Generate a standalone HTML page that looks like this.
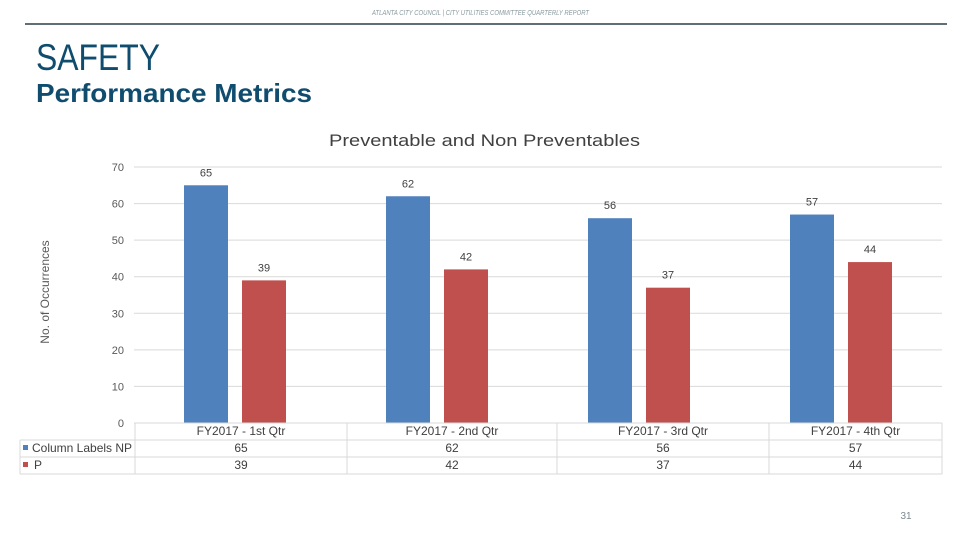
<!DOCTYPE html>
<html><head><meta charset="utf-8"><style>
body{margin:0;width:960px;height:540px;background:#fff;overflow:hidden;font-family:"Liberation Sans",sans-serif}
</style></head><body>
<svg width="960" height="540" xmlns="http://www.w3.org/2000/svg" font-family="Liberation Sans, sans-serif">
<text x="372" y="15" font-size="7" font-style="italic" fill="#8a9aa0" textLength="217" lengthAdjust="spacingAndGlyphs">ATLANTA CITY COUNCIL  |  CITY UTILITIES COMMITTEE QUARTERLY REPORT</text>
<line x1="25" y1="24" x2="947" y2="24" stroke="#2a3f4a" stroke-width="1.5"/>
<text x="36" y="70" font-size="37" fill="#0f4c6e" textLength="124" lengthAdjust="spacingAndGlyphs">SAFETY</text>
<text x="36" y="102" font-size="26" font-weight="bold" fill="#0f4c6e" textLength="276" lengthAdjust="spacingAndGlyphs">Performance Metrics</text>
<text x="329" y="146" font-size="17" fill="#404040" textLength="311" lengthAdjust="spacingAndGlyphs">Preventable and  Non Preventables</text>
<text transform="translate(49,292) rotate(-90)" font-size="12" fill="#595959" text-anchor="middle">No. of Occurrences</text>
<g id="grid"></g><g id="bars"></g><g id="tbl"></g>
<text x="906" y="519" font-size="10" fill="#7a8a90" text-anchor="middle">31</text>
</svg>
<script>
const categories=["FY2017 - 1st Qtr","FY2017 - 2nd Qtr","FY2017 - 3rd Qtr","FY2017 - 4th Qtr"];
const npValues=[65,62,56,57];
const pValues=[39,42,37,44];
const yTicks=[0,10,20,30,40,50,60,70];
const NS="http://www.w3.org/2000/svg";
const x0=134,cw=202,y0=423,yMax=70,ph=256;
const y=v=>y0-v/yMax*ph;
function mk(t,a,p,txt){const e=document.createElementNS(NS,t);for(const k in a)e.setAttribute(k,a[k]);if(txt!==undefined)e.textContent=txt;p.appendChild(e);return e;}
const g=document.getElementById('grid'),b=document.getElementById('bars'),tb=document.getElementById('tbl');
yTicks.forEach(v=>{
 const l=mk('line',{x1:x0,x2:942,y1:y(v),y2:y(v),stroke:'#d9d9d9'},g);
 
 
 const t=mk('text',{x:124,y:y(v)+4,'font-size':11,fill:'#595959','text-anchor':'end'},g,v);
 
 
});
categories.forEach((c,i)=>{
 const cx=x0+cw*i+cw/2;
 [[npValues[i],'#4f81bd',cx-51,'bar-np'],[pValues[i],'#c0504d',cx+7,'bar-p']].forEach(([v,col,bx,nm])=>{
  const r=mk('rect',{x:bx,y:y(v),width:44,height:y0-y(v),fill:col},b);
  
  
  const t=mk('text',{x:bx+22,y:y(v)-9,'font-size':11,fill:'#404040','text-anchor':'middle'},b,v);
  
  
 });
});
const cols=[135,347,557,769,942];
mk('line',{x1:135,x2:942,y1:423,y2:423,stroke:'#d9d9d9'},tb);
[440,457,474].forEach(yy=>mk('line',{x1:20,x2:942,y1:yy,y2:yy,stroke:'#d9d9d9'},tb));
mk('line',{x1:20,x2:20,y1:440,y2:474,stroke:'#d9d9d9'},tb);
cols.forEach(cx=>mk('line',{x1:cx,x2:cx,y1:423,y2:474,stroke:'#d9d9d9'},tb));
const rowLabels=[['Column Labels NP','#4f81bd'],['P','#c0504d']];
rowLabels.forEach(([lab,col],r)=>{
 mk('rect',{x:23,y:445+r*17,width:5,height:5,fill:col},tb);
 const t=mk('text',{x:r?34:32,y:452+r*17,'font-size':12,fill:'#404040'},tb,lab);
 
 
});
categories.forEach((c,i)=>{
 const cx=(cols[i]+cols[i+1])/2;
 const t=mk('text',{x:cx,y:435,'font-size':12,fill:'#404040','text-anchor':'middle'},tb,c);
 
 
 [npValues[i],pValues[i]].forEach((v,r)=>{
  const d=mk('text',{x:cx,y:452+r*17,'font-size':12,fill:'#404040','text-anchor':'middle'},tb,v);
  
  
 });
});
</script>
</body></html>
